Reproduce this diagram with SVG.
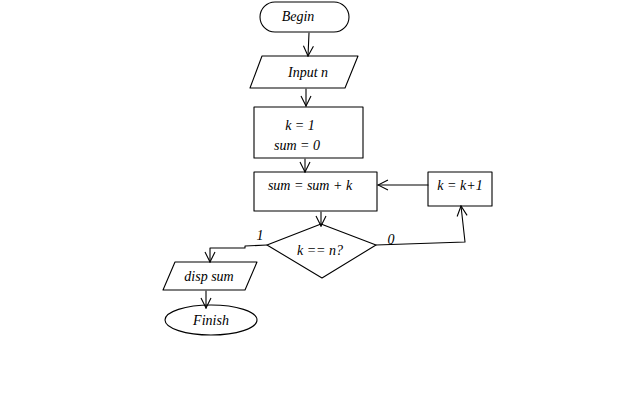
<svg xmlns="http://www.w3.org/2000/svg" width="640" height="406" viewBox="0 0 640 406">
<style>
.s{fill:none;stroke:#000;stroke-width:1.1;stroke-linejoin:round;stroke-linecap:round}
.t{font-family:"Liberation Serif",serif;font-style:italic;font-size:14px;fill:#000;text-anchor:middle}
</style>
<defs>
<marker id="a" viewBox="0 0 12 12" refX="11" refY="6" markerWidth="12" markerHeight="12" markerUnits="userSpaceOnUse" orient="auto">
<path d="M1,1 L11,6 L1,11" fill="none" stroke="#000" stroke-width="1.1"/>
</marker>
</defs>
<rect width="640" height="406" fill="#fff"/>
<g id="connectors">
<path class="s" d="M309,33 L308,56" marker-end="url(#a)"/>
<path class="s" d="M306,89 L306,106" marker-end="url(#a)"/>
<path class="s" d="M305,159 L305,172" marker-end="url(#a)"/>
<path class="s" d="M321,212 L321,226" marker-end="url(#a)"/>
<path class="s" d="M267,245 L245,246 L245,248 L210,248 L210,262" marker-end="url(#a)"/>
<path class="s" d="M206,291 L206,308" marker-end="url(#a)"/>
<path class="s" d="M376,245 L465,242 L461,206" marker-end="url(#a)"/>
<path class="s" d="M428,185 L378,185" marker-end="url(#a)"/>
<text class="t" x="260" y="240">1</text>
<text class="t" x="391" y="244">0</text>
</g>
<g id="begin">
<rect class="s" x="260" y="2" width="89" height="30" rx="15"/>
<text class="t" x="298" y="21">Begin</text>
</g>
<g id="input">
<path class="s" d="M262,56 L358,56 L345,88 L250,88 Z"/>
<text class="t" x="308" y="77">Input n</text>
</g>
<g id="init">
<rect class="s" x="254" y="107" width="109" height="51"/>
<text class="t" x="300" y="130">k = 1</text>
<text class="t" x="297" y="150">sum = 0</text>
</g>
<g id="update">
<rect class="s" x="254" y="172" width="123" height="39"/>
<text class="t" x="310" y="190">sum = sum + k</text>
</g>
<g id="decision">
<path class="s" d="M321,224 L376,245 L322,278 L267,245 Z"/>
<text class="t" x="320" y="255">k == n?</text>
</g>
<g id="increment">
<rect class="s" x="428" y="172" width="64" height="34"/>
<text class="t" x="460" y="190">k = k+1</text>
</g>
<g id="disp">
<path class="s" d="M175,262 L257,262 L245,290 L163,290 Z"/>
<text class="t" x="209" y="281">disp sum</text>
</g>
<g id="finish">
<ellipse class="s" cx="211" cy="320" rx="46" ry="15"/>
<text class="t" x="211" y="325">Finish</text>
</g>
</svg>
